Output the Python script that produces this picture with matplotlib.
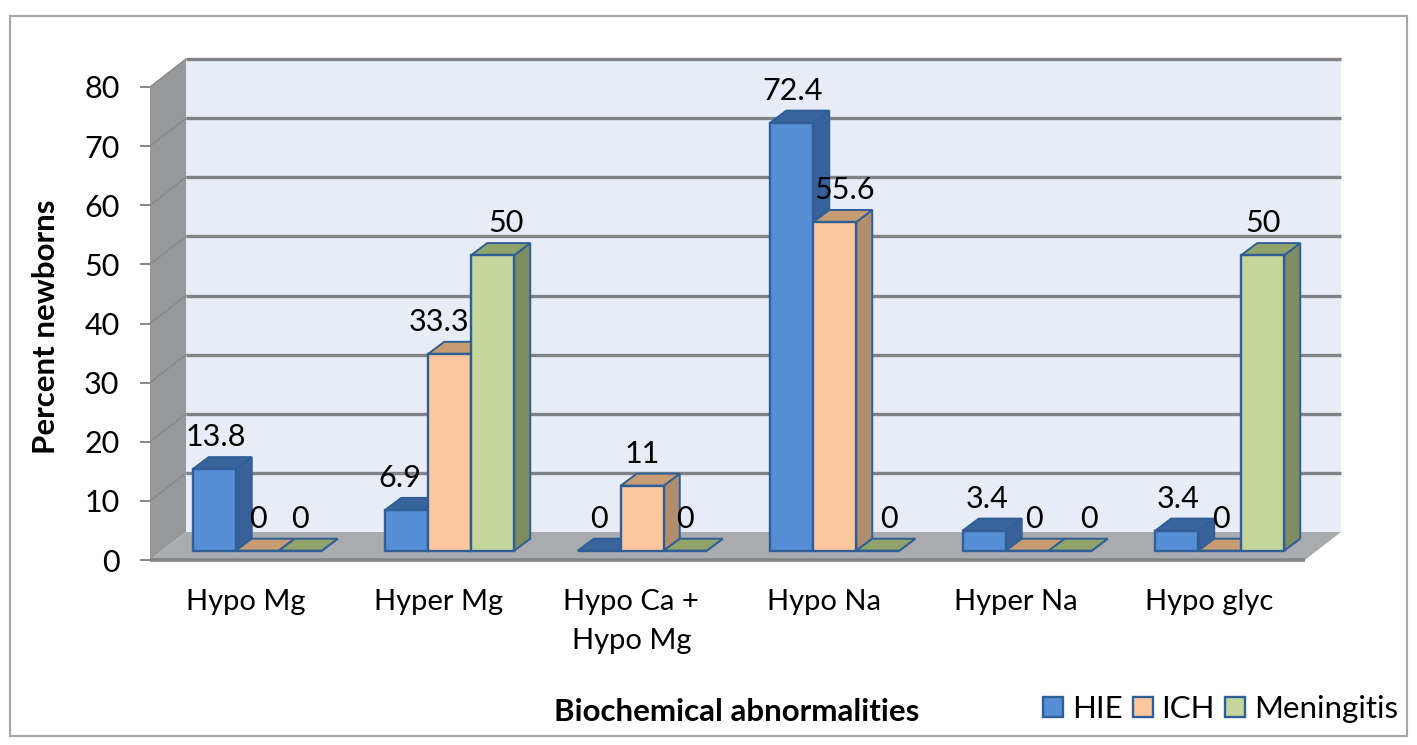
import matplotlib
matplotlib.use("Agg")
import matplotlib.pyplot as plt
from matplotlib.patches import Polygon, Patch, Rectangle

plt.rcParams['font.family'] = ['Lato', 'DejaVu Sans']

categories = ["Hypo Mg", "Hyper Mg", "Hypo Ca +\nHypo Mg", "Hypo Na", "Hyper Na", "Hypo glyc"]
series = ["HIE", "ICH", "Meningitis"]
hie = [13.8, 6.9, 0, 72.4, 3.4, 3.4]
ich = [0, 33.3, 11, 55.6, 0, 0]
meningitis = [0, 50, 0, 0, 0, 50]
yticks = [0, 10, 20, 30, 40, 50, 60, 70, 80]

# colours: front, top, side
hie_col = ["#558ED5", "#38659B", "#38619A"]
ich_col = ["#FCC79C", "#C79C72", "#B08D6E"]
men_col = ["#C4D69B", "#8FA36B", "#7F8B60"]
edge = "#2F5F96"

# sideways nudges of the data labels, pixels
nudge_hie = [2, -7, 0, 1, 3, 1]
nudge_ich = [1, -11, 0, 10, 7, 1]
nudge_men = [0, 13, 0, 11, 19, 0]

W, H = 1417, 745
fig = plt.figure(figsize=(W / 100, H / 100), dpi=100, facecolor="white")
# axes is the front plane of the chart box
left, right, top, bottom = 150, 1305, 87, 560
ax = fig.add_axes([left / W, 1 - bottom / H, (right - left) / W, (bottom - top) / H])
ax.set_xlim(0, 6)
ax.set_ylim(0, 80)
ax.patch.set_visible(False)
for s in ax.spines.values():
    s.set_visible(False)

xu = (right - left) / 6
yu = (bottom - top) / 80
wall_dx = 36 / xu
wall_dy = 28 / yu
bar_w = 43 / xu
bar_dx = 16 / xu
bar_dy = 12 / yu
base_dx = 11 / xu
base_dy = 9.3 / yu

# walls and floor
ax.add_patch(Polygon([(wall_dx, wall_dy), (6 + wall_dx, wall_dy), (6 + wall_dx, 80 + wall_dy), (wall_dx, 80 + wall_dy)],
                     fc="#E8ECF6", ec="none", zorder=1, clip_on=False))
ax.add_patch(Polygon([(0, 0), (wall_dx, wall_dy), (wall_dx, 80 + wall_dy), (0, 80)],
                     fc="#96989C", ec="none", zorder=1, clip_on=False))
ax.add_patch(Polygon([(0, 0), (6, 0), (6 + wall_dx, wall_dy), (wall_dx, wall_dy)],
                     fc="#A9ABAF", ec="none", zorder=2, clip_on=False))
for t in yticks[1:]:
    ax.plot([wall_dx, 6 + wall_dx], [t + wall_dy, t + wall_dy], color="#808285", lw=2.4, zorder=1.5,
            solid_capstyle="butt", clip_on=False)
    ax.plot([0, wall_dx], [t, t + wall_dy], color="#85878A", lw=1.0, zorder=1.5, clip_on=False)
ax.plot([0, 6], [0, 0], color="#808285", lw=2.6, zorder=2.5, solid_capstyle="butt", clip_on=False)

z = 3
for i in range(len(categories)):
    for k, (vals, cols, nudges) in enumerate(zip([hie, ich, meningitis], [hie_col, ich_col, men_col],
                                                 [nudge_hie, nudge_ich, nudge_men])):
        v = vals[i]
        x0 = i + 0.5 + (k - 1.5) * bar_w + base_dx
        x1 = x0 + bar_w
        y0 = base_dy
        y1 = y0 + v
        ax.bar(x0, v, bar_w, bottom=y0, align="edge", color=cols[0], edgecolor=edge, linewidth=1.7,
               zorder=z + 0.2, clip_on=False)
        ax.add_patch(Polygon([(x1, y0), (x1 + bar_dx, y0 + bar_dy), (x1 + bar_dx, y1 + bar_dy), (x1, y1)],
                             fc=cols[2], ec=edge, lw=1.4, zorder=z, clip_on=False))
        ax.add_patch(Polygon([(x0, y1), (x1, y1), (x1 + bar_dx, y1 + bar_dy), (x0 + bar_dx, y1 + bar_dy)],
                             fc=cols[1], ec=edge, lw=1.4, zorder=z + 0.1, clip_on=False))
        ax.annotate(str(v), xy=((x0 + x1) / 2, y1), xytext=(nudges[i], 32), textcoords="offset pixels",
                    ha="center", va="center", fontsize=22, color="black", zorder=50, annotation_clip=False)
        z += 1

ax.set_yticks(yticks)
ax.set_xticks([i + 0.5 for i in range(6)])
ax.set_xticklabels(categories, fontsize=21, linespacing=1.6)
ax.tick_params(axis="x", length=0, pad=21)
ax.tick_params(axis="y", length=7, width=1.4, color="#85878A", labelsize=22, pad=15)

ax.set_ylabel("Percent newborns", fontsize=22.5, fontweight="bold")
ax.yaxis.set_label_coords(-0.0775, 0.4926)
ax.set_xlabel("Biochemical abnormalities", fontsize=22.5, fontweight="bold")
ax.xaxis.set_label_coords(0.508, -0.292)

handles = [Patch(fc=c[0], ec=edge, lw=1.7) for c in [hie_col, ich_col, men_col]]
fig.legend(handles, series, loc="lower right", bbox_to_anchor=(1398 / W, 1 - 723 / H), ncol=3, frameon=False,
           fontsize=22.5, handlelength=0.64, handleheight=0.64, handletextpad=0.29, columnspacing=0.31,
           borderpad=0, borderaxespad=0)

fig.add_artist(Rectangle((10 / W, 1 - 736 / H), 1397 / W, 720 / H, transform=fig.transFigure,
                         fc="none", ec="#A6A6A6", lw=1.5))

fig.savefig("out.png", dpi=100)
